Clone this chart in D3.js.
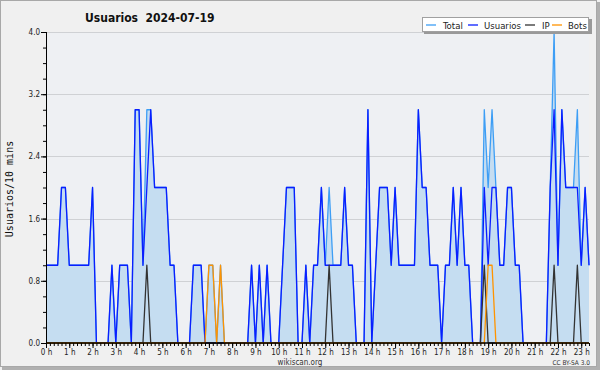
<!DOCTYPE html>
<html>
<head>
<meta charset="utf-8">
<script src="https://cdn.jsdelivr.net/npm/d3@7"></script>
<style>
  body { margin: 0; background: #fff; }
  svg { display: block; }
  .tk text { font-family: "DejaVu Sans"; font-stretch: condensed; font-size: 8px; fill: #222; }
  .tk path { display: none; }
  .tk line { stroke: #000; }
</style>
</head>
<body>
<div id="chart"></div>
<script>
// 10 minute samples, 00:00 to 23:20
var usuarios = [1,1,1,1,2,2,1,1,1,1,1,1,2,0,0,0,0,1,0,1,1,1,0,3,3,1,2,3,2,2,
                2,2,1,1,0,0,0,0,1,1,1,0,0,0,0,0,0,0,0,0,0,0,0,1,0,1,0,1,0,0,
                0,1,2,2,2,0,0,1,0,1,1,2,1,1,1,1,1,2,1,1,0,0,0,3,0,1,2,2,2,1,
                2,1,1,1,1,1,3,2,2,1,1,1,0,1,1,2,1,2,1,1,0,0,0,2,1,2,2,1,1,2,
                2,1,1,0,0,0,0,0,0,0,2,3,1,3,2,2,2,2,1,2,1]
var total    = [1,1,1,1,2,2,1,1,1,1,1,1,2,0,0,0,0,1,0,1,1,1,0,3,3,1,3,3,2,2,
                2,2,1,1,0,0,0,0,1,1,1,0,1,1,0,1,0,0,0,0,0,0,0,1,0,1,0,1,0,0,
                0,1,2,2,2,0,0,1,0,1,1,2,1,2,1,1,1,2,1,1,0,0,0,3,0,1,2,2,2,1,
                2,1,1,1,1,1,3,2,2,1,1,1,0,1,1,2,1,2,1,1,0,0,0,3,2,3,2,1,1,2,
                2,1,1,0,0,0,0,0,0,0,2,4,1,3,2,2,2,3,1,2,1]
var ip       = [0,0,0,0,0,0,0,0,0,0,0,0,0,0,0,0,0,0,0,0,0,0,0,0,0,0,1,0,0,0,
                0,0,0,0,0,0,0,0,0,0,0,0,0,0,0,0,0,0,0,0,0,0,0,0,0,0,0,0,0,0,
                0,0,0,0,0,0,0,0,0,0,0,0,0,1,0,0,0,0,0,0,0,0,0,0,0,0,0,0,0,0,
                0,0,0,0,0,0,0,0,0,0,0,0,0,0,0,0,0,0,0,0,0,0,0,1,0,0,0,0,0,0,
                0,0,0,0,0,0,0,0,0,0,0,1,0,0,0,0,0,1,0,0,0]
var bots     = [0,0,0,0,0,0,0,0,0,0,0,0,0,0,0,0,0,0,0,0,0,0,0,0,0,0,0,0,0,0,
                0,0,0,0,0,0,0,0,0,0,0,0,1,1,0,1,0,0,0,0,0,0,0,0,0,0,0,0,0,0,
                0,0,0,0,0,0,0,0,0,0,0,0,0,0,0,0,0,0,0,0,0,0,0,0,0,0,0,0,0,0,
                0,0,0,0,0,0,0,0,0,0,0,0,0,0,0,0,0,0,0,0,0,0,0,0,1,1,0,0,0,0,
                0,0,0,0,0,0,0,0,0,0,0,0,0,0,0,0,0,0,0,0,0]
var hourLabels = ["0 h","1 h","2 h","3 h","4 h","5 h","6 h","7 h","8 h","9 h","10 h","11 h",
                  "12 h","13 h","14 h","15 h","16 h","17 h","18 h","19 h","20 h","21 h","22 h","23 h"]
var yTicks = [0, 0.8, 1.6, 2.4, 3.2, 4.0]
var legendNames = ["Total", "Usuarios", "IP", "Bots"]
var legendColors = ["#3d9ef5", "#0a1eff", "#333333", "#ff9400"]

var W = 600, H = 370
var margin = {top: 32, right: 11, bottom: 27, left: 46},
    width = W - margin.left - margin.right,
    height = H - margin.top - margin.bottom;

var svg = d3.select("#chart").append("svg")
    .attr("width", W)
    .attr("height", H)

// frame
svg.append("rect").attr("x", 0).attr("y", 0).attr("width", W).attr("height", H).attr("fill", "#f0f0f0")
svg.append("rect").attr("x", 2).attr("y", H - 3).attr("width", W - 2).attr("height", 3).attr("fill", "#b0b0b0")
svg.append("rect").attr("x", W - 3).attr("y", 2).attr("width", 3).attr("height", H - 2).attr("fill", "#b0b0b0")
svg.append("rect").attr("x", 0.5).attr("y", 0.5).attr("width", W - 4).attr("height", H - 4)
    .attr("fill", "none").attr("stroke", "#a8a8a8")

var g = svg.append("g").attr("transform", "translate(" + margin.left + "," + margin.top + ")")

var x = d3.scaleLinear().domain([0, usuarios.length - 1]).range([0, width])
var y = d3.scaleLinear().domain([0, 4]).range([height, 0])

g.append("rect").attr("width", width).attr("height", height).attr("fill", "#eef0f3")

/*grid*/
g.selectAll(".grid").data(yTicks.slice(1)).enter().append("line")
    .attr("x1", 0).attr("x2", width)
    .attr("y1", function(d) { return Math.round(y(d)) + 0.5 })
    .attr("y2", function(d) { return Math.round(y(d)) + 0.5 })
    .attr("stroke", "#cfd1d4")

var area = d3.area()
    .x(function(d, i) { return x(i) })
    .y0(height)
    .y1(function(d) { return y(d) })

g.append("path").datum(total).attr("d", area).attr("fill", "#c5ddf1")

var line = d3.line()
    .x(function(d, i) { return x(i) })
    .y(function(d) { return y(d) })

var series = [total, usuarios, ip, bots]
series.forEach(function(s, k) {
    g.append("path").datum(s)
        .attr("d", line)
        .attr("fill", "none")
        .attr("stroke", legendColors[k])
        .attr("stroke-width", 1.3)
        .attr("stroke-linejoin", "round")
})

/*axes*/
var xMinor = d3.axisBottom(x).tickValues(d3.range(0, usuarios.length)).tickSize(3).tickFormat("")
var xMajor = d3.axisBottom(x).tickValues(hourLabels.map(function(d, i) { return i * 6 }))
    .tickSize(5).tickPadding(1)
    .tickFormat(function(d, i) { return hourLabels[i] })

g.append("g").attr("class", "tk").attr("transform", "translate(0," + height + ")").call(xMinor)
g.append("g").attr("class", "tk").attr("transform", "translate(0," + height + ")").call(xMajor)

var yMinor = d3.axisLeft(y).tickValues(d3.range(0, 4.01, 0.2)).tickSize(3).tickFormat("")
var yMajor = d3.axisLeft(y).tickValues(yTicks).tickSize(5).tickPadding(1).tickFormat(d3.format(".1f"))
g.append("g").attr("class", "tk").call(yMinor)
g.append("g").attr("class", "tk").call(yMajor)

g.append("line").attr("x1", 0.5).attr("x2", 0.5).attr("y1", 0).attr("y2", height).attr("stroke", "#000")
g.append("line").attr("x1", 0).attr("x2", width).attr("y1", height).attr("y2", height)
    .attr("stroke", "#000").attr("stroke-width", 1.6)

/*texts*/
svg.append("text").attr("x", 85).attr("y", 22)
    .attr("xml:space", "preserve").style("white-space", "pre")
    .style("font-family", "DejaVu Sans").style("font-stretch", "condensed")
    .style("font-weight", "bold").style("font-size", "12px").attr("fill", "#111")
    .text("Usuarios  2024-07-19")

svg.append("text").attr("transform", "translate(13,189) rotate(-90)")
    .attr("text-anchor", "middle")
    .style("font-family", "DejaVu Sans Mono").style("font-size", "10px").attr("fill", "#111")
    .text("Usuarios/10 mins")

svg.append("text").attr("x", 300).attr("y", 365).attr("text-anchor", "middle")
    .style("font-family", "DejaVu Sans").style("font-stretch", "condensed").style("font-size", "8px").attr("fill", "#333")
    .text("wikiscan.org")

svg.append("text").attr("x", 590).attr("y", 365).attr("text-anchor", "end")
    .style("font-family", "DejaVu Sans").style("font-stretch", "condensed").style("font-size", "6.5px").attr("fill", "#333")
    .text("CC BY-SA 3.0")

/*legend*/
var lg = svg.append("g").attr("transform", "translate(422,17)")
lg.append("rect").attr("x", 2).attr("y", 2).attr("width", 168).attr("height", 15).attr("fill", "#999")
lg.append("rect").attr("x", 0.5).attr("y", 0.5).attr("width", 166).attr("height", 14)
    .attr("fill", "#fff").attr("stroke", "#a0a0a0")
var lx = [4, 46, 103, 130]
var tx = [21, 62, 120, 146]
legendNames.forEach(function(name, k) {
    lg.append("line").attr("x1", lx[k]).attr("x2", lx[k] + 10).attr("y1", 8).attr("y2", 8)
        .attr("stroke", legendColors[k]).attr("stroke-width", 1.3)
    lg.append("text").attr("x", tx[k]).attr("y", 11.5)
        .style("font-family", "DejaVu Sans").style("font-stretch", "condensed").style("font-size", "9.5px").attr("fill", "#222")
        .text(name)
})
</script>
</body>
</html>
